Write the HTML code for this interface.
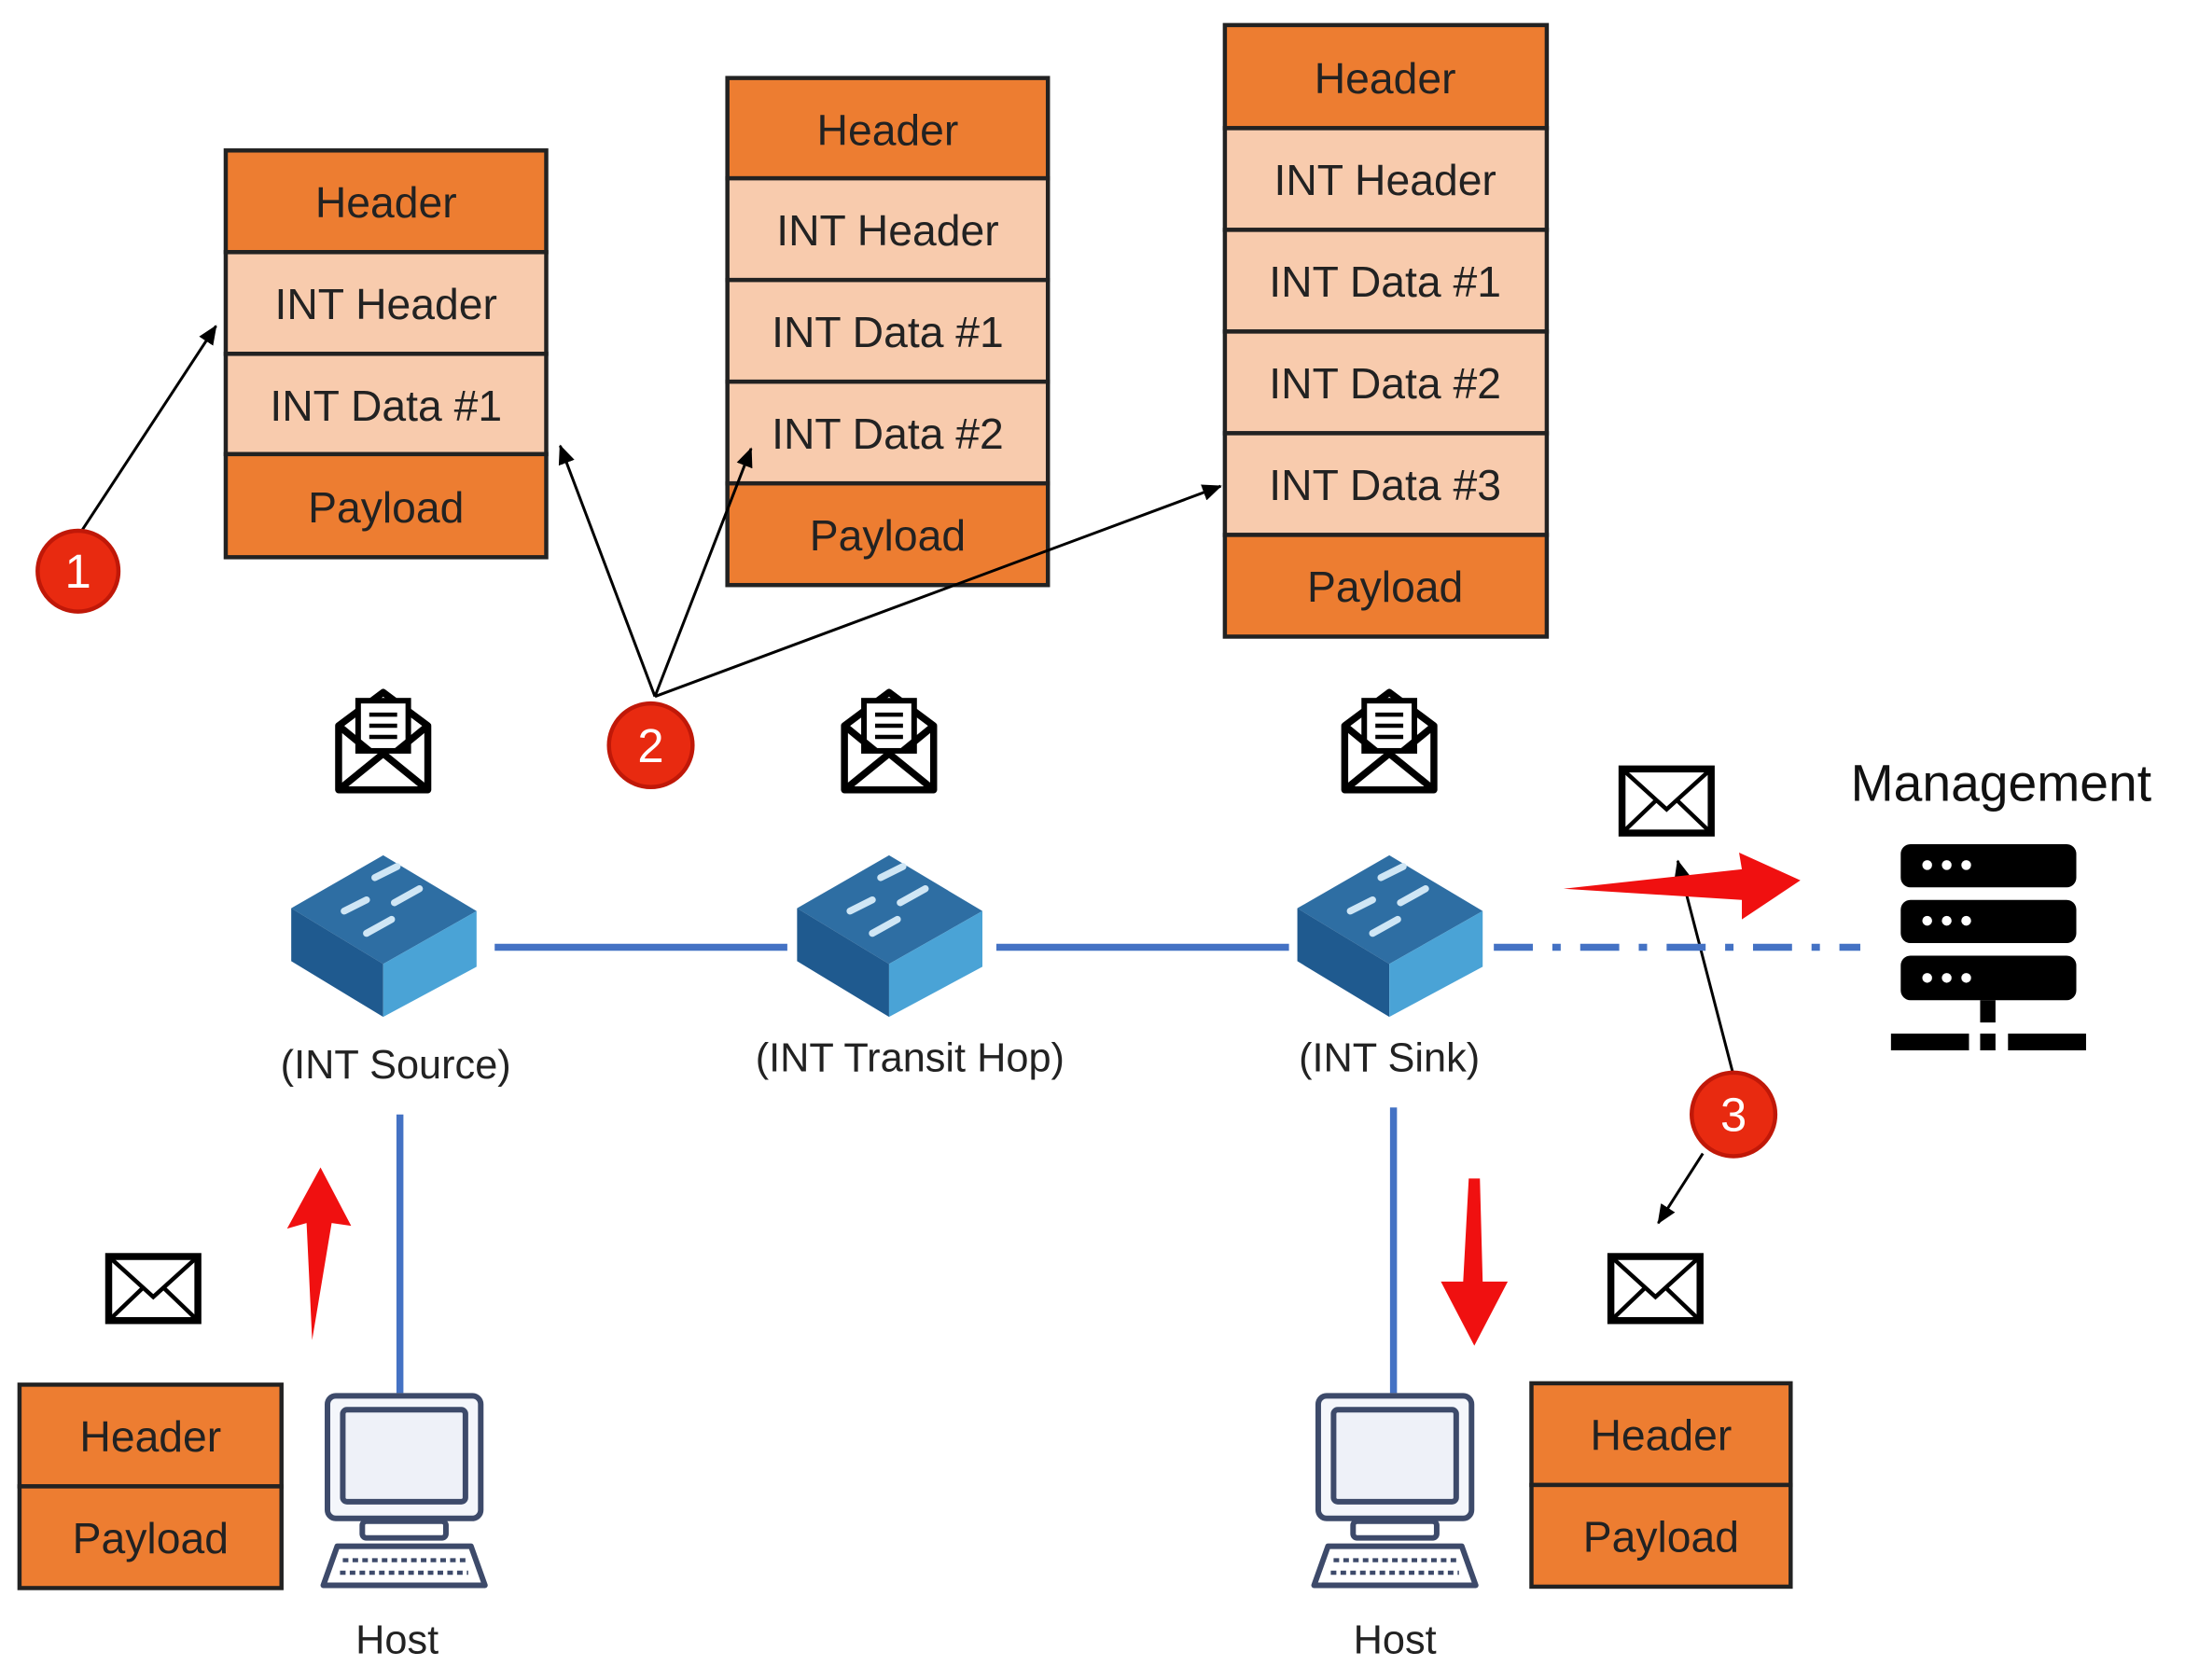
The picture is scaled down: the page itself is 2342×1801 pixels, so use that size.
<!DOCTYPE html>
<html><head><meta charset="utf-8"><style>html,body{margin:0;padding:0;background:#fff}svg{display:block}</style></head>
<body>
<svg width="2342" height="1801" viewBox="0 0 1568 1206" preserveAspectRatio="none" xmlns="http://www.w3.org/2000/svg" font-family="Liberation Sans, sans-serif">
<defs>
<marker id="ah" markerWidth="10" markerHeight="10" refX="9" refY="5" orient="auto" markerUnits="userSpaceOnUse"><path d="M0,0 L10,5 L0,10 z" fill="#000"/></marker>
<marker id="ahs" markerWidth="14" markerHeight="12" refX="13" refY="6" orient="auto" markerUnits="userSpaceOnUse"><path d="M0,0 L14,6 L0,12 z" fill="#000"/></marker>
<g id="sw">
<polygon points="0,-62 67,-22 0,16 -66,-24" fill="#2e6ea3"/>
<polygon points="-66,-24 0,16 0,54 -66,14" fill="#1f5a8f"/>
<polygon points="0,16 67,-22 67,18 0,54" fill="#4aa3d6"/>
<g stroke="#cfe6f5" stroke-width="5" stroke-linecap="round"><line x1="-6" y1="-46" x2="10" y2="-54"/><line x1="-28" y1="-22" x2="-12" y2="-30"/><line x1="8" y1="-28" x2="26" y2="-38"/><line x1="-12" y1="-6" x2="6" y2="-16"/></g>
</g>
<g id="oenv" fill="none" stroke="#000" stroke-width="5">
<path d="M-32,-12 L-32,34 L32,34 L32,-12 L0,-36 Z" stroke-linejoin="round"/>
<rect x="-18" y="-30" width="36" height="36" fill="#fff" stroke-width="4"/>
<path d="M-32,34 L0,8 L32,34 M-32,-12 L-10,6 M32,-12 L10,6"/>
<path d="M-10,-20 H10 M-10,-12 H10 M-10,-4 H10" stroke-width="3"/>
</g>
<g id="env" fill="none" stroke="#000" stroke-width="5">
<rect x="-32" y="-23" width="64" height="46"/>
<path d="M-32,-23 L0,6 L32,-23 M-32,23 L-8,0 M32,23 L8,0" stroke-width="3"/>
</g>
<g id="pc" fill="none" stroke="#3d4a6a" stroke-width="4">
<rect x="-55" y="-68" width="110" height="88" rx="6" fill="#f4f6fb"/>
<rect x="-44" y="-58" width="88" height="66" rx="3" fill="#eef1f8"/>
<rect x="-30" y="22" width="60" height="12" rx="3"/>
<path d="M-48,40 H48 L58,68 H-58 Z" stroke-linejoin="round"/>
<path d="M-44,50 H44 M-46,59 H46" stroke-width="3" stroke-dasharray="4,3"/>
</g>
</defs>

<!-- Packet box 1 -->
<g stroke="#222" stroke-width="3" font-size="30" text-anchor="middle" fill="#222">
<rect x="162" y="108" width="230" height="73" fill="#ED7D31"/>
<rect x="162" y="181" width="230" height="73" fill="#F8CBAD"/>
<rect x="162" y="254" width="230" height="72" fill="#F8CBAD"/>
<rect x="162" y="326" width="230" height="74" fill="#ED7D31"/>
<!-- box 2 -->
<rect x="522" y="56" width="230" height="72" fill="#ED7D31"/>
<rect x="522" y="128" width="230" height="73" fill="#F8CBAD"/>
<rect x="522" y="201" width="230" height="73" fill="#F8CBAD"/>
<rect x="522" y="274" width="230" height="73" fill="#F8CBAD"/>
<rect x="522" y="347" width="230" height="73" fill="#ED7D31"/>
<!-- box 3 -->
<rect x="879" y="18" width="231" height="74" fill="#ED7D31"/>
<rect x="879" y="92" width="231" height="73" fill="#F8CBAD"/>
<rect x="879" y="165" width="231" height="73" fill="#F8CBAD"/>
<rect x="879" y="238" width="231" height="73" fill="#F8CBAD"/>
<rect x="879" y="311" width="231" height="73" fill="#F8CBAD"/>
<rect x="879" y="384" width="231" height="73" fill="#ED7D31"/>
<!-- bottom boxes -->
<rect x="14" y="994" width="188" height="73" fill="#ED7D31"/>
<rect x="14" y="1067" width="188" height="73" fill="#ED7D31"/>
<rect x="1099" y="993" width="186" height="73" fill="#ED7D31"/>
<rect x="1099" y="1066" width="186" height="73" fill="#ED7D31"/>
</g>
<g font-size="31" text-anchor="middle" fill="#222">
<text x="277" y="156">Header</text><text x="277" y="229">INT Header</text><text x="277" y="302">INT Data #1</text><text x="277" y="375">Payload</text>
<text x="637" y="104">Header</text><text x="637" y="176">INT Header</text><text x="637" y="249">INT Data #1</text><text x="637" y="322">INT Data #2</text><text x="637" y="395">Payload</text>
<text x="994" y="67">Header</text><text x="994" y="140">INT Header</text><text x="994" y="213">INT Data #1</text><text x="994" y="286">INT Data #2</text><text x="994" y="359">INT Data #3</text><text x="994" y="432">Payload</text>
<text x="108" y="1042">Header</text><text x="108" y="1115">Payload</text>
<text x="1192" y="1041">Header</text><text x="1192" y="1114">Payload</text>
</g>

<!-- black arrows -->
<g stroke="#000" stroke-width="2" fill="none">
<line x1="58" y1="382" x2="155" y2="234" marker-end="url(#ahs)"/>
<line x1="470" y1="500" x2="402" y2="320" marker-end="url(#ahs)"/>
<line x1="470" y1="500" x2="539" y2="322" marker-end="url(#ahs)"/>
<line x1="470" y1="500" x2="876" y2="349" marker-end="url(#ahs)"/>
<line x1="1244" y1="772" x2="1204" y2="618" marker-end="url(#ahs)"/>
<line x1="1222" y1="828" x2="1190" y2="878" marker-end="url(#ahs)"/>
</g>

<!-- circles -->
<g font-size="34" text-anchor="middle" fill="#fff">
<circle cx="56" cy="410" r="29" fill="#e82a10" stroke="#c01808" stroke-width="3"/><text x="56" y="422">1</text>
<circle cx="467" cy="535" r="30" fill="#e82a10" stroke="#c01808" stroke-width="3"/><text x="467" y="547">2</text>
<circle cx="1244" cy="800" r="30" fill="#e82a10" stroke="#c01808" stroke-width="3"/><text x="1244" y="812">3</text>
</g>

<!-- open envelopes -->
<use href="#oenv" x="275" y="533"/>
<use href="#oenv" x="638" y="533"/>
<use href="#oenv" x="997" y="533"/>

<!-- network lines -->
<g stroke="#4472C4" stroke-width="5">
<line x1="355" y1="680" x2="565" y2="680"/>
<line x1="715" y1="680" x2="925" y2="680"/>
<line x1="1072" y1="680" x2="1335" y2="680" stroke-dasharray="28,14,6,14"/>
<line x1="287" y1="800" x2="287" y2="1000"/>
<line x1="1000" y1="795" x2="1000" y2="1000"/>
</g>

<!-- switches -->
<use href="#sw" x="275" y="676"/>
<use href="#sw" x="638" y="676"/>
<use href="#sw" x="997" y="676"/>

<g font-size="29" text-anchor="middle" fill="#222">
<text x="284" y="774">(INT Source)</text>
<text x="653" y="769">(INT Transit Hop)</text>
<text x="997" y="769">(INT Sink)</text>
<text x="285" y="1187">Host</text>
<text x="1001" y="1187">Host</text>
</g>
<text x="1436" y="575" font-size="37" text-anchor="middle" fill="#111">Management</text>

<!-- server -->
<g fill="#000">
<rect x="1364" y="606" width="126" height="31" rx="7"/>
<rect x="1364" y="646" width="126" height="31" rx="7"/>
<rect x="1364" y="686" width="126" height="32" rx="7"/>
<rect x="1421" y="718" width="11" height="16"/>
<rect x="1357" y="742" width="56" height="12"/>
<rect x="1421" y="742" width="11" height="12"/>
<rect x="1441" y="742" width="56" height="12"/>
</g>
<g fill="#fff">
<circle cx="1383" cy="621" r="3.5"/><circle cx="1397" cy="621" r="3.5"/><circle cx="1411" cy="621" r="3.5"/>
<circle cx="1383" cy="661" r="3.5"/><circle cx="1397" cy="661" r="3.5"/><circle cx="1411" cy="661" r="3.5"/>
<circle cx="1383" cy="702" r="3.5"/><circle cx="1397" cy="702" r="3.5"/><circle cx="1411" cy="702" r="3.5"/>
</g>

<!-- red arrows -->
<g fill="#f01010">
<polygon points="1122,638 1250,624 1248,612 1292,632 1250,660 1250,646"/>
<polygon points="224,962 220,878 206,882 230,838 252,880 238,878"/>
<polygon points="1054,846 1062,846 1064,920 1082,920 1058,966 1034,920 1050,920"/>
</g>

<!-- closed envelopes -->
<use href="#env" x="1196" y="575"/>
<use href="#env" x="110" y="925"/>
<use href="#env" x="1188" y="925"/>

<!-- hosts -->
<use href="#pc" x="290" y="1070"/>
<use href="#pc" x="1001" y="1070"/>
</svg>
</body></html>
